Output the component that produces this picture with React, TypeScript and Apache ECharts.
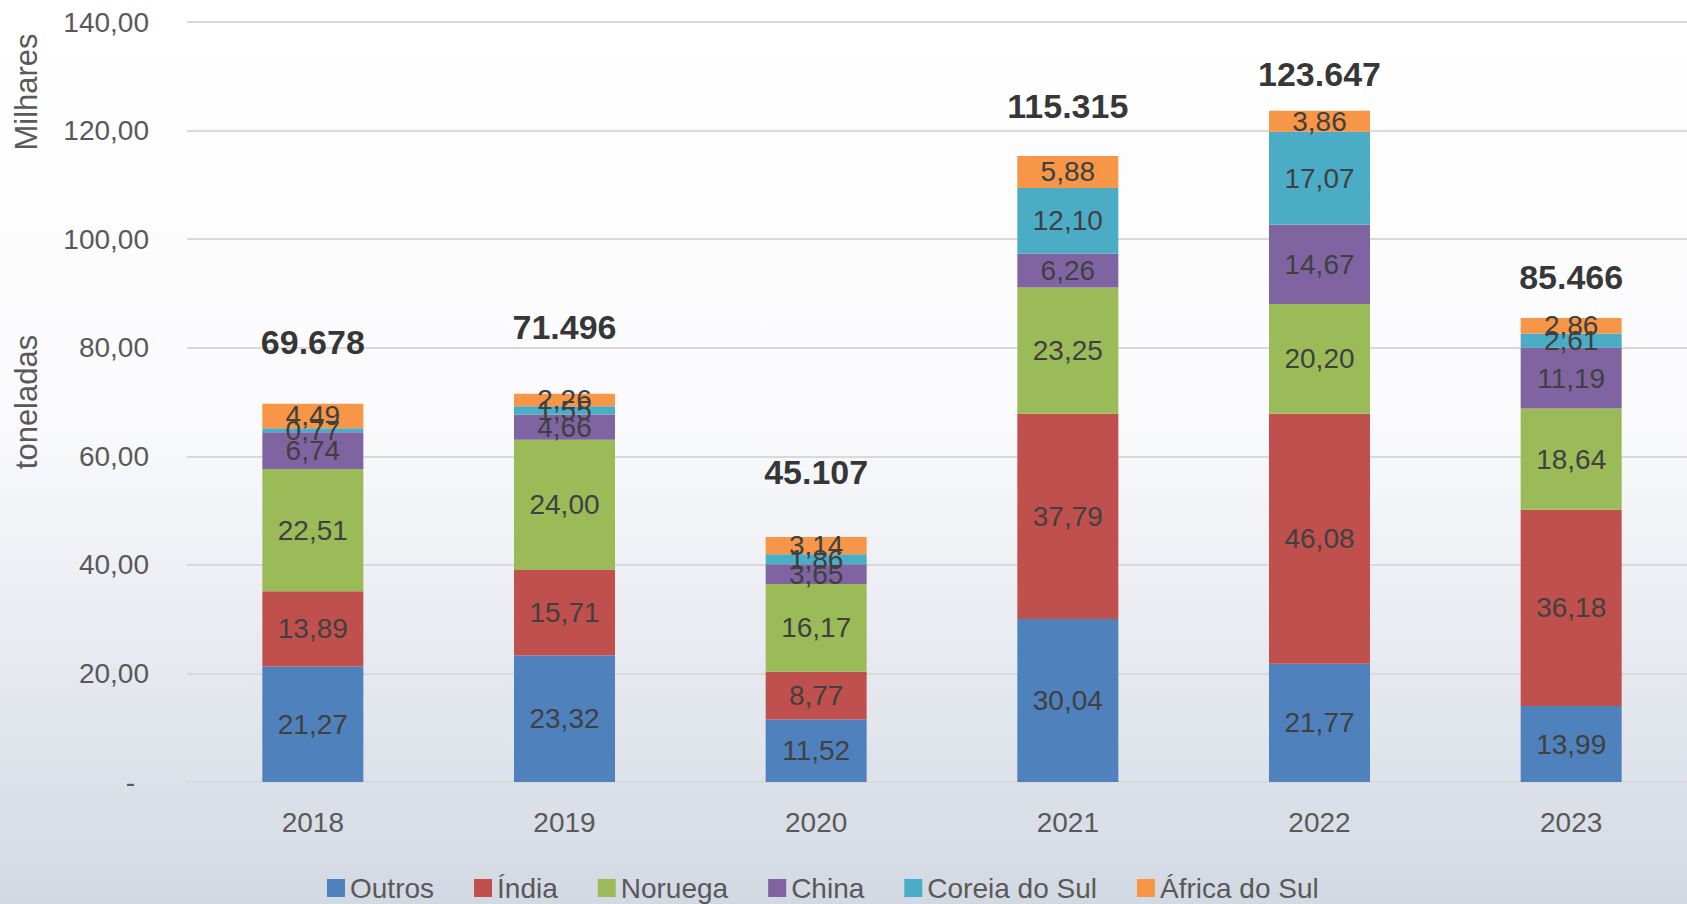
import React, { useEffect, useRef } from "react";
import * as echarts from "echarts";

const categories = ["2018", "2019", "2020", "2021", "2022", "2023"];
const seriesNames = ["Outros", "Índia", "Noruega", "China", "Coreia do Sul", "África do Sul"];
const outros = [21.27, 23.32, 11.52, 30.04, 21.77, 13.99];
const india = [13.89, 15.71, 8.77, 37.79, 46.08, 36.18];
const noruega = [22.51, 24.0, 16.17, 23.25, 20.2, 18.64];
const china = [6.74, 4.66, 3.65, 6.26, 14.67, 11.19];
const coreia = [0.77, 1.55, 1.86, 12.1, 17.07, 2.61];
const africa = [4.49, 2.26, 3.14, 5.88, 3.86, 2.86];
const totals = [69678, 71496, 45107, 115315, 123647, 85466];
const totalLabelLift = [45, 50, 48, 33, 20, 24];

const colors = ["#4f81bd", "#c0504d", "#9bbb59", "#8064a2", "#4bacc6", "#f79646"];
const FONT = "'Liberation Sans', Arial, sans-serif";

const fmtComma = (v: number) => v.toFixed(2).replace(".", ",");
const fmtThousands = (v: number) => String(v).replace(/\B(?=(\d{3})+(?!\d))/g, ".");

export default function App() {
  const ref = useRef<HTMLDivElement>(null);
  useEffect(() => {
    if (!ref.current) return;
    const chart = echarts.init(ref.current, undefined, { renderer: "svg" });
    const values = [outros, india, noruega, china, coreia, africa];
    const barSeries = values.map((arr, i) => ({
      name: seriesNames[i],
      type: "bar",
      stack: "total",
      barWidth: 101,
      itemStyle: { color: colors[i] },
      label: {
        show: true,
        position: "inside",
        color: "#404040",
        fontSize: 28,
        fontFamily: FONT,
        formatter: (p: any) => fmtComma(p.value),
      },
      data: arr,
    }));
    const totalSeries = {
      name: "Total",
      type: "scatter",
      symbolSize: 0,
      silent: true,
      data: totals.map((t, i) => ({
        value: t / 1000,
        label: { distance: totalLabelLift[i] },
      })),
      label: {
        show: true,
        position: "top",
        color: "#000000",
        fontSize: 34,
        fontWeight: "bold",
        fontFamily: FONT,
        formatter: (p: any) => fmtThousands(totals[p.dataIndex]),
      },
    };
    chart.setOption({
      animation: false,
      backgroundColor: new echarts.graphic.LinearGradient(0, 0, 0, 1, [
        { offset: 0, color: "#ffffff" },
        { offset: 0.45, color: "#fbfbfd" },
        { offset: 1, color: "#d3d9e3" },
      ]),
      grid: { left: 187, right: 0, top: 22, bottom: 122 },
      legend: {
        data: seriesNames,
        left: 322,
        top: 869,
        itemWidth: 18,
        itemHeight: 18,
        itemGap: 40,
        icon: "rect",
        textStyle: { color: "#595959", fontSize: 28, fontFamily: FONT },
      },
      xAxis: {
        type: "category",
        data: categories,
        axisTick: { show: false },
        axisLine: { show: true, lineStyle: { color: "#d9d9d9", width: 2 } },
        axisLabel: { color: "#595959", fontSize: 28, fontFamily: FONT, margin: 26 },
      },
      yAxis: {
        type: "value",
        min: 0,
        max: 140,
        interval: 20,
        axisLine: { show: false },
        axisTick: { show: false },
        splitLine: { lineStyle: { color: "#d9d9d9", width: 2 } },
        axisLabel: {
          color: "#595959",
          fontSize: 28,
          fontFamily: FONT,
          margin: 38,
          formatter: (v: number) => (v === 0 ? "{d|-}" : fmtComma(v)),
          rich: {
            d: { color: "#595959", fontSize: 28, fontFamily: FONT, padding: [0, 14, 0, 0] },
          },
        },
      },
      graphic: [
        {
          type: "text",
          x: 26,
          y: 92,
          rotation: Math.PI / 2,
          style: {
            text: "Milhares",
            fill: "#595959",
            fontSize: 31,
            fontFamily: FONT,
            textAlign: "center",
            textVerticalAlign: "middle",
          },
        },
        {
          type: "text",
          x: 26,
          y: 402,
          rotation: Math.PI / 2,
          style: {
            text: "toneladas",
            fill: "#595959",
            fontSize: 31,
            fontFamily: FONT,
            textAlign: "center",
            textVerticalAlign: "middle",
          },
        },
      ],
      series: [...barSeries, totalSeries],
    });
    return () => chart.dispose();
  }, []);
  return (
    <div
      style={{
        position: "absolute",
        left: 0,
        top: 0,
        width: 1687,
        height: 904,
        overflow: "hidden",
      }}
    >
      <div ref={ref} style={{ width: 1697, height: 904 }} />
    </div>
  );
}
